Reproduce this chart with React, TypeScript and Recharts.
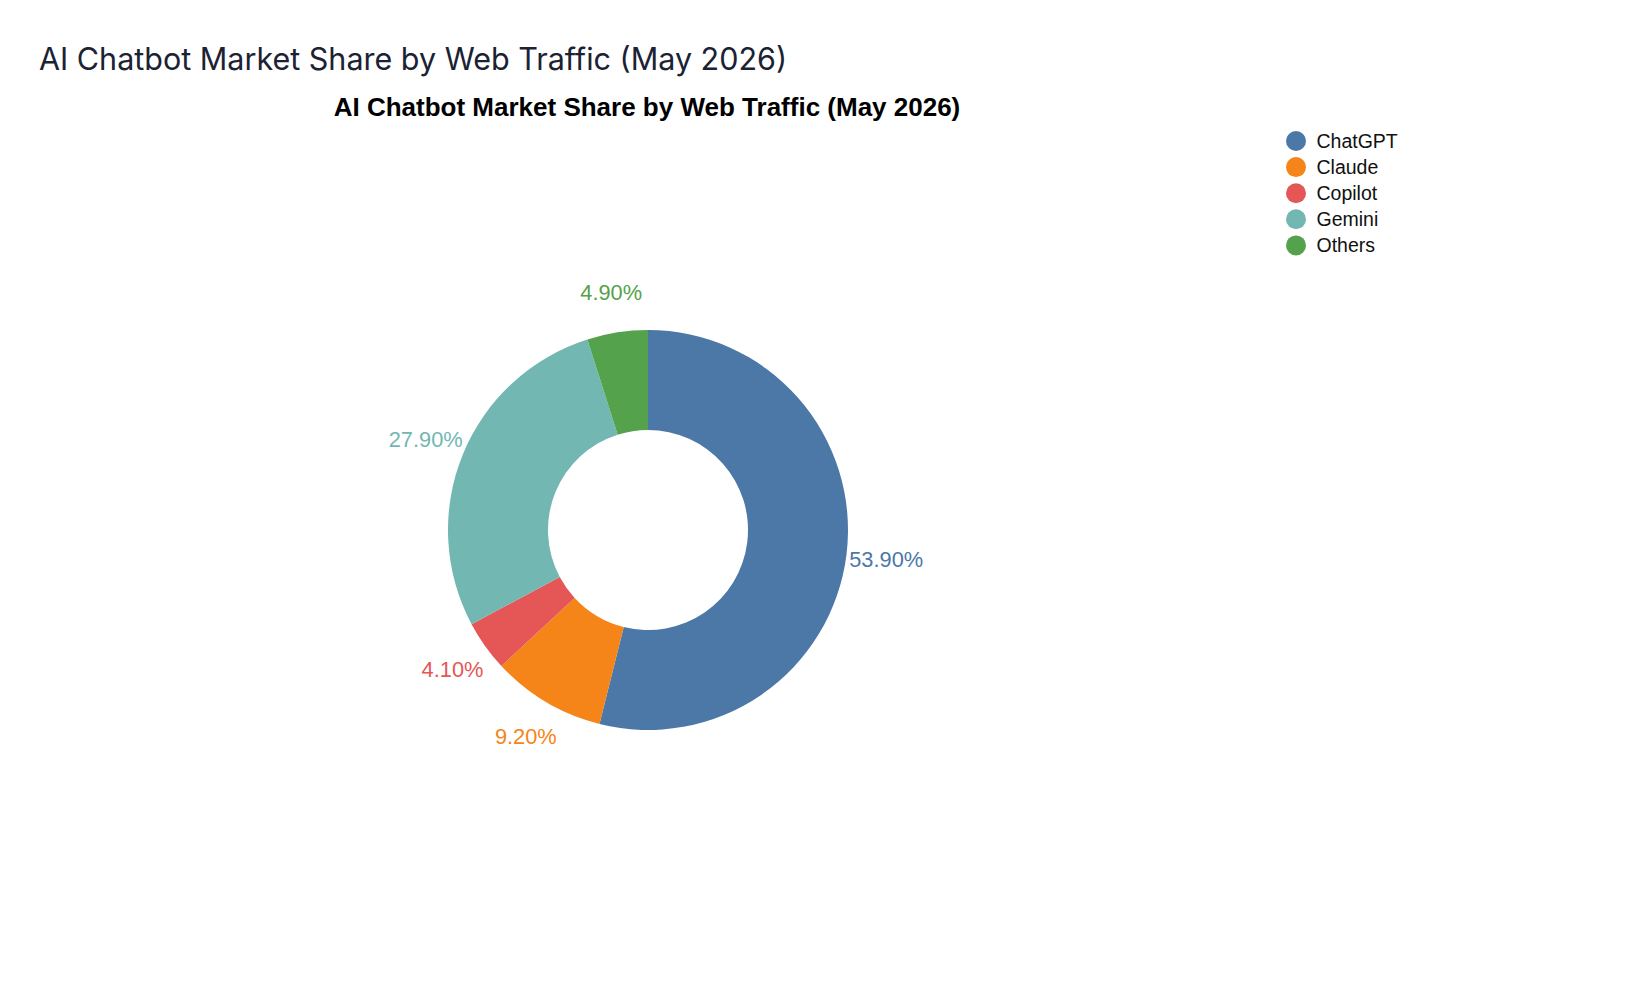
import React from 'react';
import { PieChart, Pie, Cell, Legend } from 'recharts';

const categories = ['ChatGPT', 'Claude', 'Copilot', 'Gemini', 'Others'];
const shares = [53.9, 9.2, 4.1, 27.9, 4.9];
const colors = ['#4c78a8', '#f58518', '#e45756', '#72b7b2', '#54a24b'];

const pageTitle = 'AI Chatbot Market Share by Web Traffic (May 2026)';
const chartTitle = 'AI Chatbot Market Share by Web Traffic (May 2026)';

const data = categories.map((name, i) => ({ name, value: shares[i] }));

const RAD = Math.PI / 180;

const renderLabel = (props: any) => {
  const { cx, cy, midAngle, outerRadius, index, value } = props;
  const r = outerRadius + 40;
  const x = cx + r * Math.cos(-midAngle * RAD);
  const y = cy + r * Math.sin(-midAngle * RAD);
  return (
    <text
      x={x}
      y={y}
      textAnchor="middle"
      dominantBaseline="central"
      fill={colors[index]}
      fontFamily="'Liberation Sans', Arial, Helvetica, sans-serif"
      fontSize={21.8}
    >
      {Number(value).toFixed(2)}%
    </text>
  );
};

const renderLegend = (props: any) => {
  const { payload } = props;
  return (
    <svg width={200} height={140} style={{ overflow: 'visible' }}>
      {(payload || []).map((entry: any, i: number) => (
        <g key={entry.value} transform={`translate(0, ${i * 26.1})`}>
          <circle cx={10} cy={10} r={10} fill={entry.color} />
          <text
            x={30.5}
            y={10}
            dominantBaseline="central"
            fontFamily="'Liberation Sans', Arial, Helvetica, sans-serif"
            fontSize={19.5}
            fill="#111"
          >
            {entry.value}
          </text>
        </g>
      ))}
    </svg>
  );
};

export default function App() {
  return (
    <div
      style={{
        position: 'absolute',
        left: 0,
        top: 0,
        width: 1638,
        height: 992,
        background: '#fff',
      }}
    >
      <PieChart width={1638} height={992} margin={{ top: 0, right: 0, bottom: 0, left: 0 }}>
        <Pie
          data={data}
          dataKey="value"
          nameKey="name"
          cx={648}
          cy={530}
          innerRadius={100}
          outerRadius={200}
          startAngle={90}
          endAngle={-270}
          stroke="none"
          label={renderLabel}
          labelLine={false}
          isAnimationActive={false}
        >
          {data.map((d, i) => (
            <Cell key={d.name} fill={colors[i]} />
          ))}
        </Pie>
        <Legend
          layout="vertical"
          align="right"
          verticalAlign="top"
          content={renderLegend}
          wrapperStyle={{ position: 'absolute', left: 1286, top: 131, width: 200, height: 140 }}
        />
      </PieChart>
      <svg
        width={1638}
        height={140}
        style={{ position: 'absolute', left: 0, top: 0, pointerEvents: 'none' }}
      >
        <text
          x={39}
          y={70}
          fontFamily="Inter, 'Noto Sans', sans-serif"
          fontSize={30.5}
          fill="#1b2233"
        >
          {pageTitle}
        </text>
        <text
          x={647}
          y={115.5}
          textAnchor="middle"
          fontFamily="'Liberation Sans', Arial, Helvetica, sans-serif"
          fontWeight="bold"
          fontSize={26}
          fill="#000"
        >
          {chartTitle}
        </text>
      </svg>
    </div>
  );
}
